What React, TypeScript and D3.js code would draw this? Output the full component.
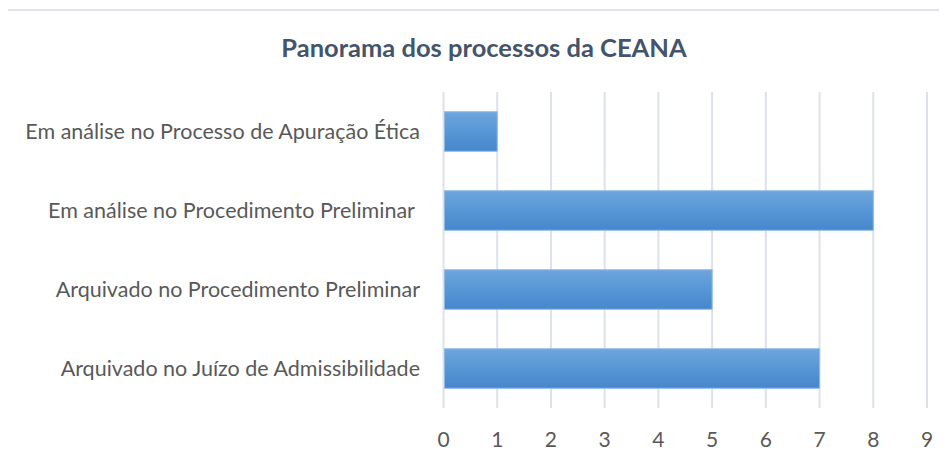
import React from 'react';
import * as d3 from 'd3';

// data
const categories = [
  'Em análise no Processo de Apuração Ética',
  'Em análise no Procedimento Preliminar ',
  'Arquivado no Procedimento Preliminar',
  'Arquivado no Juízo de Admissibilidade',
];
const counts = [1, 8, 5, 7];
const xTicks = [0, 1, 2, 3, 4, 5, 6, 7, 8, 9];
const chartTitle = 'Panorama dos processos da CEANA';

const W = 947;
const H = 461;
const margin = { top: 92, right: 20, bottom: 53, left: 443.5 };
const FONT = 'Lato, "Open Sans", sans-serif';

const App = () => {
  const x = d3.scaleLinear().domain([0, 9]).range([margin.left, W - margin.right]);
  const y = d3.scaleBand()
    .domain(categories)
    .range([margin.top, H - margin.bottom])
    .paddingInner(0.5)
    .paddingOuter(0.25);

  const plotTop = margin.top;
  const plotBottom = H - margin.bottom;

  return (
    <div style={{ margin: -8 }}>
      <svg width={W} height={H} style={{ display: 'block', background: '#fff' }}>
        <defs>
          <linearGradient id="barGrad" x1="0" y1="0" x2="0" y2="1">
            <stop offset="0%" stopColor="#6ea5dd" />
            <stop offset="50%" stopColor="#5797d6" />
            <stop offset="100%" stopColor="#4686cb" />
          </linearGradient>
        </defs>
        {/* chart area border */}
        <rect x={7} y={10} width={W + 10} height={H + 10} fill="#fff" stroke="#e0e4ea" strokeWidth={2} />

        <text x={484} y={57} textAnchor="middle" fontFamily={FONT} fontWeight="bold"
          fontSize={25.5} fill="#44546a">{chartTitle}</text>

        {/* gridlines */}
        {xTicks.map(t => (
          <line key={'g' + t} x1={x(t)} x2={x(t)} y1={plotTop} y2={plotBottom}
            stroke="#dde1e8" strokeWidth={2} />
        ))}

        {/* bars */}
        {categories.map((c, i) => (
          <rect key={c} x={x(0) + 1} y={y(c)} width={x(counts[i]) - x(0) - 1}
            height={y.bandwidth()} fill="url(#barGrad)" stroke="#8dbbe6" strokeWidth={1} />
        ))}

        {/* category labels */}
        {categories.map(c => (
          <text key={'l' + c} x={420} y={(y(c) as number) + y.bandwidth() / 2} dy="0.35em"
            textAnchor="end" fontFamily={FONT} fontSize={21.5} fill="#595959"
            style={{ whiteSpace: 'pre' }}>{c}</text>
        ))}

        {/* tick labels */}
        {xTicks.map(t => (
          <text key={'t' + t} x={x(t)} y={447} textAnchor="middle" fontFamily={FONT}
            fontSize={21} fill="#595959">{t}</text>
        ))}
      </svg>
    </div>
  );
};

export default App;
